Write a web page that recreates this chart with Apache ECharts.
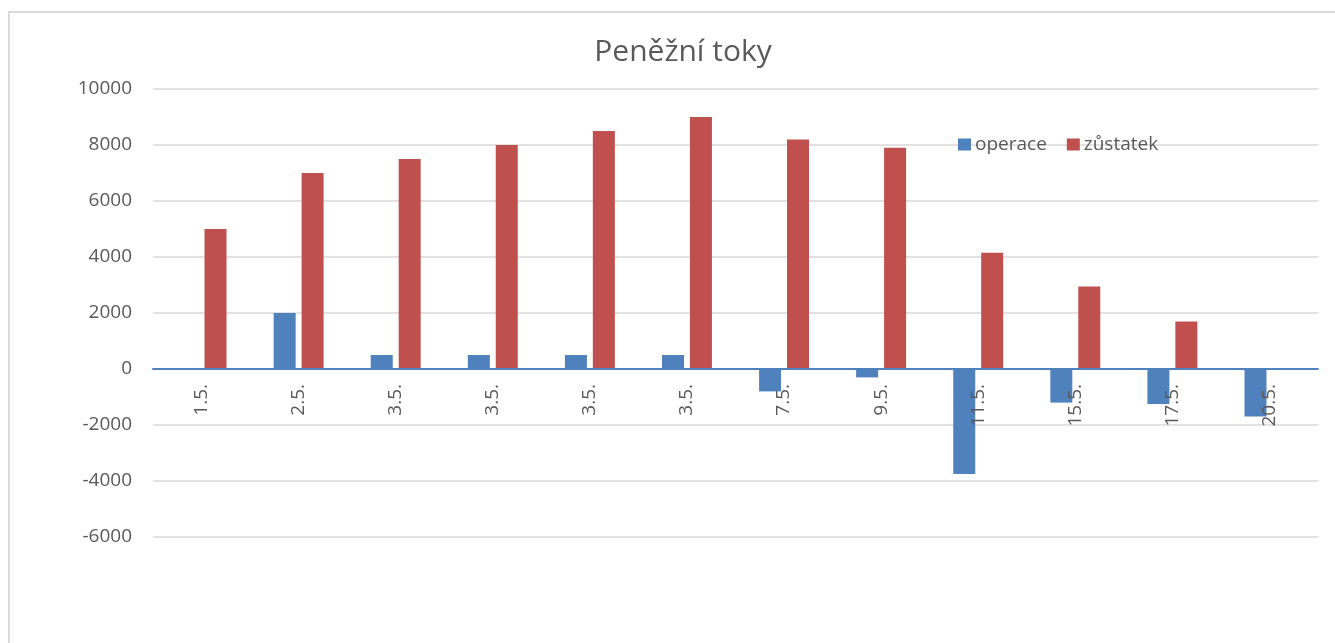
<!DOCTYPE html>
<html lang="cs">
<head>
    <meta charset="UTF-8">
    <title>Peněžní toky | ECharts</title>
    <script src="https://cdn.jsdelivr.net/npm/echarts@6/dist/echarts.min.js"></script>
    <style>
        html, body { margin: 0; padding: 0; background: #fff; }
    </style>
</head>
<body>
<div id="chart" style="width: 1335px; height: 643px;"></div>

<script type="text/javascript">
    // data
    var days = ['1.5.', '2.5.', '3.5.', '3.5.', '3.5.', '3.5.', '7.5.', '9.5.', '11.5.', '15.5.', '17.5.', '20.5.'];
    var operace = [0, 2000, 500, 500, 500, 500, -800, -300, -3750, -1200, -1250, -1700];
    var zustatek = [5000, 7000, 7500, 8000, 8500, 9000, 8200, 7900, 4150, 2950, 1700, 0];
    var yMin = -6000, yMax = 10000, yStep = 2000;

    var textColor = '#595959';
    var font = '"Open Sans", "Liberation Sans", sans-serif';

    var gridTop = 89, gridBottom = 106, chartHeight = 643;
    // move the category axis (line + labels) up to the zero line, as Excel does
    var plotHeight = chartHeight - gridTop - gridBottom;
    var zeroOffset = -plotHeight * (0 - yMin) / (yMax - yMin);

    var myChart = echarts.init(document.getElementById('chart'));

    var option = {
        color: ['#4f81bd', '#c0504d'],
        animation: false,
        // chart frame like the Excel chart area
        graphic: [{
            type: 'rect',
            shape: { x: 9, y: 12, width: 1340, height: 660 },
            style: { fill: 'none', stroke: '#d9d9d9', lineWidth: 2 },
            silent: true
        }],
        title: {
            text: 'Peněžní toky',
            left: 678,
            top: 32,
            textAlign: 'center',
            textStyle: { fontFamily: font, fontSize: 30, fontWeight: 'normal', color: textColor }
        },
        legend: {
            data: ['operace', 'zůstatek'],
            left: 953,
            top: 130,
            itemWidth: 13,
            itemHeight: 12,
            itemGap: 20,
            icon: 'rect',
            textStyle: { fontFamily: font, fontSize: 19, color: textColor, padding: [0, 0, 0, -1] }
        },
        grid: {
            left: 153,
            right: 17,
            top: gridTop,
            bottom: gridBottom,
            containLabel: false
        },
        xAxis: {
            type: 'category',
            data: days,
            offset: zeroOffset,
            zlevel: 1,
            axisLine: { onZero: false, lineStyle: { color: '#4f81bd', width: 2 } },
            axisTick: { show: false },
            axisLabel: {
                rotate: 90,
                margin: 15,
                fontFamily: font,
                fontSize: 19,
                color: textColor
            }
        },
        yAxis: {
            type: 'value',
            min: yMin,
            max: yMax,
            interval: yStep,
            axisLine: { show: false },
            axisTick: { show: false },
            splitLine: { lineStyle: { color: '#d9d9d9', width: 1.5 } },
            axisLabel: {
                margin: 21,
                fontFamily: font,
                fontSize: 19,
                color: textColor,
                formatter: function (v) { return String(v); }
            }
        },
        series: [
            {
                name: 'operace',
                type: 'bar',
                data: operace,
                barWidth: 22,
                barGap: '27%'
            },
            {
                name: 'zůstatek',
                type: 'bar',
                data: zustatek,
                barWidth: 22,
                barGap: '27%'
            }
        ]
    };

    myChart.setOption(option);
</script>
</body>
</html>
